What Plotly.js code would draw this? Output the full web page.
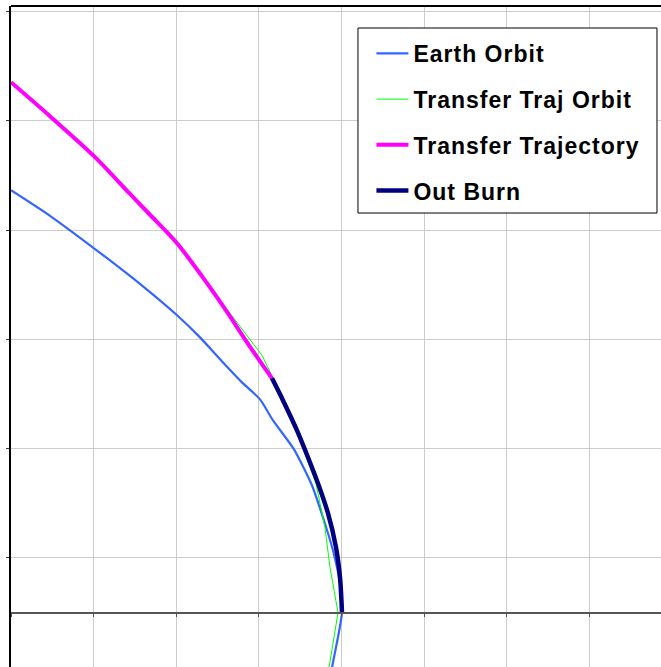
<!DOCTYPE html>
<html>
<head>
<meta charset="utf-8">
<script src="https://cdn.plot.ly/plotly-3.0.1.min.js"></script>
<style>
  html, body { margin: 0; padding: 0; background: #ffffff; }
  #chart { width: 661px; height: 667px; }
  #chart .legend .legendtext { letter-spacing: 1px; }
  #chart .legend .scrollbox, #chart .legend .groups, #chart .legend { clip-path: none !important; }
</style>
</head>
<body>
<div id="chart"></div>
<script>
// Series names
const seriesNames = ["Earth Orbit", "Transfer Traj Orbit", "Transfer Trajectory", "Out Burn"];

// Earth Orbit (grid units)
const earthX = [0, 0.472, 1.005, 1.441, 2.010, 2.288, 2.567, 2.809, 3.015, 3.172, 3.426, 3.644, 3.777, 3.898, 3.983, 4.007, 3.886, 3.838];
const earthY = [3.864, 3.630, 3.333, 3.080, 2.720, 2.518, 2.289, 2.097, 1.951, 1.758, 1.493, 1.163, 0.870, 0.568, 0.266, 0, -0.504, -0.714];

// Transfer Traj Orbit
const orbitX = [0, 1.005, 2.010, 2.433, 2.772, 3.039, 3.317, 3.499, 3.692, 3.801, 3.862, 3.959, 3.850, 3.814];
const orbitY = [4.853, 4.176, 3.379, 2.958, 2.618, 2.353, 1.923, 1.575, 1.181, 0.778, 0.412, 0, -0.504, -0.714];

// Transfer Trajectory
const trajX = [0, 0.472, 1.005, 1.441, 1.683, 2.010, 2.409, 2.651, 2.833, 3.015, 3.160];
const trajY = [4.853, 4.542, 4.176, 3.830, 3.640, 3.379, 2.976, 2.711, 2.500, 2.299, 2.143];

// Out Burn
const burnX = [3.160, 3.293, 3.462, 3.596, 3.717, 3.838, 3.935, 3.983, 4.007];
const burnY = [2.143, 1.941, 1.667, 1.419, 1.181, 0.907, 0.595, 0.321, 0];

const legendFont = { family: "Liberation Sans, Arial, sans-serif", size: 23, weight: "bold", color: "#000000" };

const traces = [
  { x: earthX, y: earthY, name: seriesNames[0], legendgroup: "g1", mode: "lines",
    line: { color: "#3366ff", width: 2.2, shape: "spline", smoothing: 0.6 } },
  { x: orbitX, y: orbitY, name: seriesNames[1], legendgroup: "g2", mode: "lines",
    line: { color: "#00ff00", width: 1 } },
  { x: trajX, y: trajY, name: seriesNames[2], legendgroup: "g3", mode: "lines",
    line: { color: "#ff00ff", width: 4, shape: "spline", smoothing: 0.8 } },
  { x: burnX, y: burnY, name: seriesNames[3], legendgroup: "g4", mode: "lines",
    line: { color: "#000080", width: 4.5, shape: "spline", smoothing: 0.8 } }
];

const yMin = -0.498, yMax = 5.55;

const layout = {
  width: 661, height: 667,
  margin: { l: 11, r: 0, t: 6, b: 0, pad: 0 },
  paper_bgcolor: "#ffffff", plot_bgcolor: "#ffffff",
  showlegend: true,
  legend: {
    x: 0.5545, y: 0.9607, xanchor: "left", yanchor: "top",
    bgcolor: "rgba(0,0,0,0)", borderwidth: 0,
    font: legendFont, tracegroupgap: 12.8, itemwidth: 32
  },
  xaxis: {
    range: [0, 7.869], tick0: 0, dtick: 1,
    showgrid: true, gridcolor: "#cccccc", gridwidth: 1,
    zeroline: false, showticklabels: false,
    anchor: "free", position: (0 - yMin) / (yMax - yMin),
    showline: true, linecolor: "#555555", linewidth: 2,
    ticks: "outside", ticklen: 3, tickcolor: "#555555", tickwidth: 1
  },
  yaxis: {
    range: [yMin, yMax], tick0: 0.5, dtick: 1,
    showgrid: true, gridcolor: "#cccccc", gridwidth: 1,
    zeroline: false, showticklabels: false,
    showline: true, linecolor: "#000000", linewidth: 2,
    ticks: "outside", ticklen: 3, tickcolor: "#333333", tickwidth: 1
  },
  shapes: [
    { type: "line", xref: "paper", yref: "paper", x0: 0, x1: 1, y0: 1, y1: 1,
      line: { color: "#000000", width: 2 } },
    { type: "rect", xref: "paper", yref: "paper", layer: "above",
      x0: 0.5338, x1: 0.9938, y0: 0.6868, y1: 0.9667,
      fillcolor: "#ffffff", line: { color: "#000000", width: 1 } }
  ]
};

Plotly.newPlot("chart", traces, layout, { staticPlot: true, displayModeBar: false });
</script>
</body>
</html>
